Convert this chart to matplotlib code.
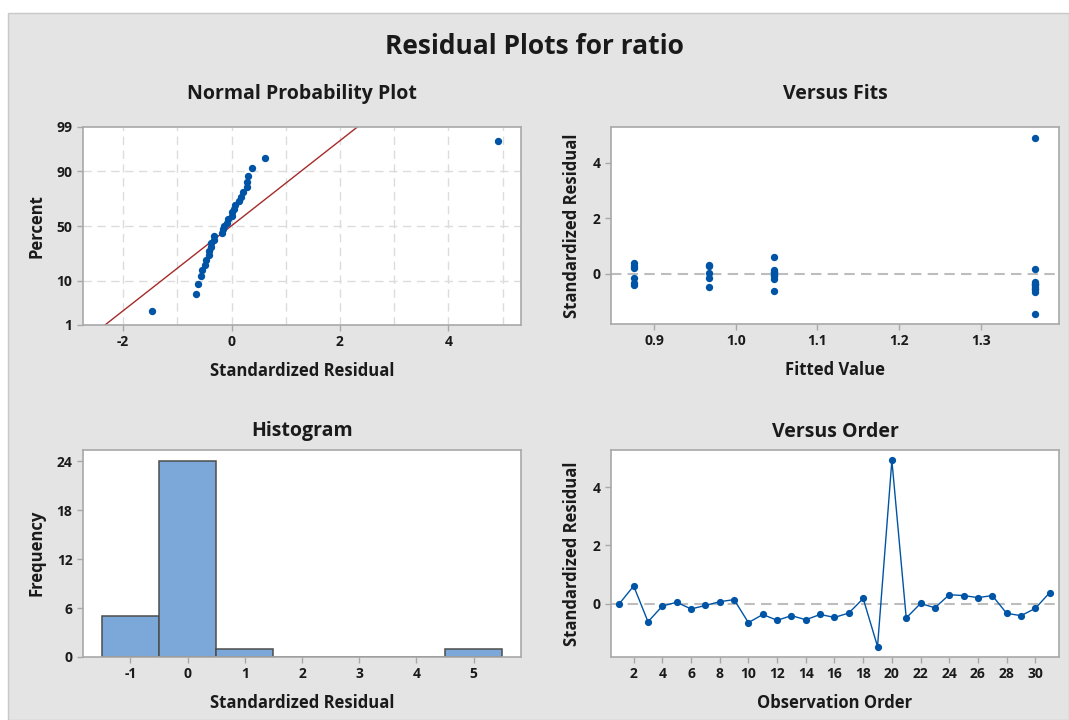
import numpy as np
import matplotlib.pyplot as plt
from matplotlib.patches import Rectangle
from statistics import NormalDist

plt.rcParams['font.family'] = ['Open Sans', 'DejaVu Sans']
plt.rcParams['axes.unicode_minus'] = False

# standardized residuals in observation order
obs = np.arange(1, 32)
resid = np.array([0.00, 0.61, -0.62, -0.08, 0.05, -0.18, -0.06, 0.07, 0.14,
                  -0.65, -0.37, -0.57, -0.41, -0.55, -0.37, -0.47, -0.32, 0.18,
                  -1.47, 4.92, -0.49, 0.01, -0.14, 0.31, 0.28, 0.21, 0.28,
                  -0.33, -0.41, -0.16, 0.38])
# fitted value for each observation
fitted = np.array([1.047] * 9 + [1.366] * 11 + [0.967] * 5 + [0.875] * 6)

pct_ticks = [1, 10, 50, 90, 99]
hist_bins = np.arange(-1.5, 6.0, 1.0)

blue = '#0054a6'
txt = '#1a1a1a'
spine = '#a8a8a8'

nd = NormalDist()

fig = plt.figure(figsize=(10.69, 7.2), dpi=100)
fig.patch.set_facecolor('white')
fig.patches.append(Rectangle((8 / 1069, 0), 1 - 8 / 1069, 1 - 13 / 720,
                             transform=fig.transFigure, facecolor='#e4e4e4',
                             edgecolor='#c8c8c8', linewidth=1, zorder=-10))

fig.text(0.5, 1 - 46 / 720, 'Residual Plots for ratio', ha='center', va='center',
         fontsize=19, fontweight='bold', color=txt)


def px_axes(l, t, r, b):
    return fig.add_axes([l / 1069, 1 - b / 720, (r - l) / 1069, (b - t) / 720])


def style(ax, title, xlabel, ylabel, tpad):
    ax.set_facecolor('white')
    for s in ax.spines.values():
        s.set_color(spine)
        s.set_linewidth(1.2)
    ax.tick_params(colors=spine, labelcolor=txt, labelsize=10, length=4, width=1)
    for lab in ax.get_xticklabels() + ax.get_yticklabels():
        lab.set_fontweight('bold')
    ax.set_title(title, fontsize=14, fontweight='bold', color=txt, pad=tpad)
    ax.set_xlabel(xlabel, fontsize=12, fontweight='bold', color=txt, labelpad=9)
    ax.set_ylabel(ylabel, fontsize=12, fontweight='bold', color=txt, labelpad=8)


# normal probability plot
ax1 = px_axes(83, 127, 521, 325)
srt = np.sort(resid)
n = len(srt)
zq = np.array([nd.inv_cdf((i - 0.3) / (n + 0.4)) for i in range(1, n + 1)])
mu, sd = resid.mean(), resid.std(ddof=1)
zlo, zhi = nd.inv_cdf(0.01), nd.inv_cdf(0.99)
xl = np.array([-3, 6])
ax1.plot(xl, (xl - mu) / sd, color='#a52a2a', lw=1, zorder=2)
ax1.scatter(srt, zq, s=28, color=blue, zorder=3, linewidths=0)
ax1.set_xlim(-2.74, 5.34)
ax1.set_ylim(zlo, zhi)
ax1.set_yticks([nd.inv_cdf(p / 100) for p in pct_ticks])
ax1.set_yticklabels([str(p) for p in pct_ticks])
ax1.set_xticks([-2, 0, 2, 4])
for gx in range(-2, 6):
    ax1.axvline(gx, color='#dcdcdc', lw=1, ls=(0, (6, 4)), zorder=1)
for p in [10, 50, 90]:
    ax1.axhline(nd.inv_cdf(p / 100), color='#dcdcdc', lw=1, ls=(0, (6, 4)), zorder=1)
style(ax1, 'Normal Probability Plot', 'Standardized Residual', 'Percent', 20)

# versus fits
ax2 = px_axes(611, 127, 1059, 324)
ax2.axhline(0, color='#bdbdbd', lw=1.5, ls=(0, (5, 3)), zorder=1)
ax2.scatter(fitted, resid, s=28, color=blue, zorder=3, linewidths=0)
ax2.set_xlim(0.847, 1.396)
ax2.set_ylim(-1.82, 5.30)
ax2.set_xticks([0.9, 1.0, 1.1, 1.2, 1.3])
ax2.set_yticks([0, 2, 4])
style(ax2, 'Versus Fits', 'Fitted Value', 'Standardized Residual', 20)

# histogram
ax3 = px_axes(83, 449.5, 521, 657)
ax3.hist(resid, bins=hist_bins, color='#7ba7d9', edgecolor='#4d4d4d', linewidth=1.1)
ax3.set_xlim(-1.83, 5.83)
ax3.set_ylim(0, 25.45)
ax3.set_xticks(range(-1, 6))
ax3.set_yticks([0, 6, 12, 18, 24])
style(ax3, 'Histogram', 'Standardized Residual', 'Frequency', 9.5)

# versus order
ax4 = px_axes(611, 450, 1059, 657)
ax4.axhline(0, color='#bdbdbd', lw=1.5, ls=(0, (5, 3)), zorder=1)
ax4.plot(obs, resid, color=blue, lw=1, marker='o', markersize=5.2,
         markeredgewidth=0, zorder=3)
ax4.set_xlim(0.42, 31.65)
ax4.set_ylim(-1.83, 5.28)
ax4.set_xticks(range(2, 31, 2))
ax4.set_yticks([0, 2, 4])
style(ax4, 'Versus Order', 'Observation Order', 'Standardized Residual', 9.5)

fig.savefig('out.png', dpi=100, facecolor=fig.get_facecolor())
